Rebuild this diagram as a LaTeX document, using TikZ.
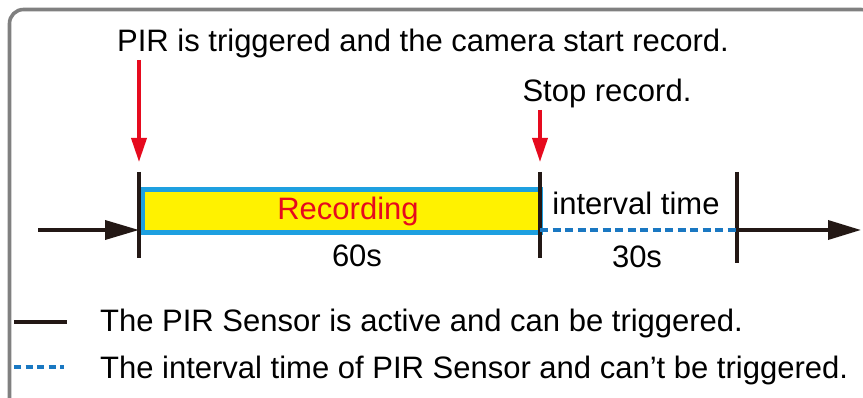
\documentclass[tikz,border=0pt]{standalone}
\usepackage{fontspec}
\setmainfont{Liberation Sans}
\usetikzlibrary{arrows.meta}
\definecolor{myred}{HTML}{E60A1E}
\definecolor{myblue}{HTML}{1EA0E0}
\definecolor{dashblue}{HTML}{1A78C2}
\definecolor{frame}{HTML}{808080}
\definecolor{boxyellow}{HTML}{FFF200}
\definecolor{ink}{HTML}{231815}
\begin{document}
\begin{tikzpicture}[x=1pt,y=-1pt,
  lbl/.style={inner sep=0pt,font=\fontsize{31}{31}\selectfont,text=black},
  redarrow/.style={myred,line width=3.6pt,-{Triangle[length=24pt,width=15pt]}},
  tick/.style={ink,line width=3.8pt},
  axis/.style={ink,line width=3.6pt},
  dashline/.style={dashblue,line width=4.5pt,dash pattern=on 8pt off 4.5pt}]
\useasboundingbox (0,0) rectangle (863,398);
\draw[frame,line width=3.6pt,rounded corners=14pt] (9.5,9.5) rectangle (875,412);
% title texts
\node[lbl,anchor=base] (title) at (423,52) {PIR is triggered and the camera start record.};
\node[lbl,anchor=base] (stop) at (607,102) {Stop record.};
% coordinates
\coordinate (a1s) at (139,60);
\coordinate (a1e) at (139,162);
\coordinate (a2s) at (540,110);
\coordinate (a2e) at (540,162);
\coordinate (t1a) at (139,172); \coordinate (t1b) at (139,258);
\coordinate (t2a) at (540,172); \coordinate (t2b) at (540,258);
\coordinate (t3a) at (737,172); \coordinate (t3b) at (737,263);
\coordinate (start) at (38,230);
\coordinate (end) at (861,230);
\coordinate (p1) at (139,230);
\coordinate (p2) at (540,230);
\coordinate (p3) at (737,230);
% recording box
\node[draw=myblue,fill=boxyellow,line width=5pt,minimum width=398pt,minimum height=43pt,inner sep=0pt,anchor=north west] (rec) at (140,187.5) {};
% ticks
\draw[tick] (t1a) -- (t1b);
\draw[tick] (t2a) -- (t2b);
\draw[tick] (t3a) -- (t3b);
\node[lbl,text=myred,anchor=base] (rectext) at (348,220) {Recording};
% axis
\draw[axis,-{Triangle[length=34pt,width=19pt]}] (start) -- (p1);
\draw[dashline] (p2) -- (p3);
\draw[axis,-{Triangle[length=33pt,width=19pt]}] (p3) -- (end);
% red arrows
\draw[redarrow] (a1s) -- (a1e);
\draw[redarrow] (a2s) -- (a2e);
% labels
\node[lbl,anchor=base] (interval) at (636,215) {interval time};
\node[lbl,anchor=base] (s60) at (357,267) {60s};
\node[lbl,anchor=base] (s30) at (637,268) {30s};
% legend
\coordinate (l1a) at (14,322); \coordinate (l1b) at (67,322);
\coordinate (l2a) at (14,367); \coordinate (l2b) at (64,367);
\draw[ink,line width=3.8pt] (l1a) -- (l1b);
\draw[dashblue,line width=4.5pt,dash pattern=on 7pt off 4.5pt] (l2a) -- (l2b);
\node[lbl,anchor=base west] (leg1) at (100,332) {The PIR Sensor is active and can be triggered.};
\node[lbl,anchor=base west] (leg2) at (100,378) {The interval time of PIR Sensor and can’t be triggered.};
\end{tikzpicture}
\end{document}
